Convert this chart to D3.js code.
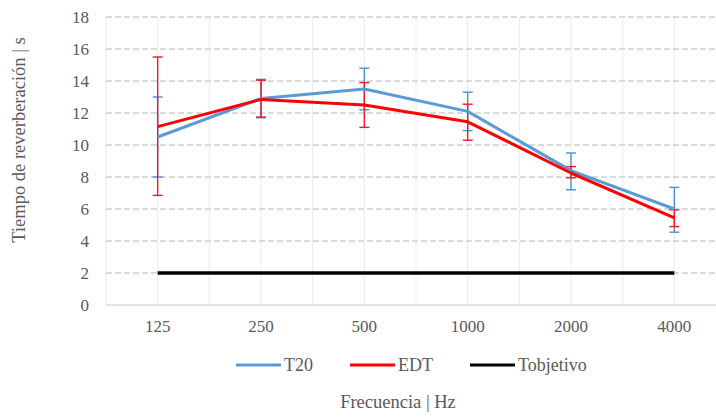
<!DOCTYPE html>
<html>
<head>
<meta charset="utf-8">
<script src="https://cdn.jsdelivr.net/npm/d3@7"></script>
<style>
  body { margin: 0; background: #fff; }
  text { font-family: "Liberation Serif", "DejaVu Serif", serif; fill: #595959; }
</style>
</head>
<body>
<div id="chart"></div>
<script>
// values
var frequencies = ["125", "250", "500", "1000", "2000", "4000"];
var t20 = [10.5, 12.9, 13.5, 12.1, 8.4, 6.0];
var t20Upper = [13.0, 14.1, 14.8, 13.3, 9.5, 7.35];
var t20Lower = [8.0, 11.7, 12.2, 10.9, 7.2, 4.55];
var edt = [11.15, 12.85, 12.5, 11.45, 8.25, 5.45];
var edtUpper = [15.5, 14.05, 13.9, 12.55, 8.65, 5.95];
var edtLower = [6.85, 11.75, 11.1, 10.3, 7.95, 4.9];
var target = [2, 2, 2, 2, 2, 2];
var yTicks = [0, 2, 4, 6, 8, 10, 12, 14, 16, 18];

var WIDTH = 716, HEIGHT = 417;
var plotLeft = 106, plotRight = 726, plotTop = 17, plotBottom = 305;

var svg = d3.select("#chart").append("svg")
    .attr("width", WIDTH)
    .attr("height", HEIGHT);

var x = d3.scaleBand().domain(frequencies).range([plotLeft, plotRight]);
var y = d3.scaleLinear().domain([0, 18]).range([plotBottom, plotTop]);
var cx = function (d) { return x(d) + x.bandwidth() / 2; };

// vertical gridlines, at band edges and centres
var vLines = [];
frequencies.forEach(function (f) { vLines.push(x(f)); vLines.push(cx(f)); });
svg.append("g").selectAll("line").data(vLines).enter().append("line")
    .attr("x1", function (d) { return d; }).attr("x2", function (d) { return d; })
    .attr("y1", plotTop).attr("y2", plotBottom)
    .attr("stroke", "#ebebeb").attr("stroke-width", 1);

// horizontal dashed gridlines
svg.append("g").selectAll("line").data(yTicks.filter(function (d) { return d > 0; })).enter().append("line")
    .attr("x1", plotLeft).attr("x2", WIDTH)
    .attr("y1", function (d) { return y(d); }).attr("y2", function (d) { return y(d); })
    .attr("stroke", "#d0d0d0").attr("stroke-width", 1.3)
    .attr("stroke-dasharray", "6,3");

// x axis line
svg.append("line")
    .attr("x1", plotLeft).attr("x2", WIDTH)
    .attr("y1", plotBottom).attr("y2", plotBottom)
    .attr("stroke", "#d9d9d9").attr("stroke-width", 1.3);

// y axis labels
var yAxis = d3.axisLeft(y).tickValues(yTicks).tickSize(0).tickPadding(0);
var gy = svg.append("g").attr("transform", "translate(" + (plotLeft - 17) + ",0)").call(yAxis);
gy.select(".domain").remove();
gy.selectAll("text").style("font-size", "17px").attr("fill", "#595959")
    .style("font-family", "'Liberation Serif', serif");

// x axis labels
var xAxis = d3.axisBottom(x).tickSize(0).tickPadding(0);
var gx = svg.append("g").attr("transform", "translate(0," + (plotBottom + 15) + ")").call(xAxis);
gx.select(".domain").remove();
gx.selectAll("text").style("font-size", "17px").attr("fill", "#595959")
    .style("font-family", "'Liberation Serif', serif");

// target line
var line = d3.line()
    .x(function (d, i) { return cx(frequencies[i]); })
    .y(function (d) { return y(d); });

svg.append("path").datum(target)
    .attr("d", line).attr("fill", "none")
    .attr("stroke", "#000").attr("stroke-width", 3.5);

var drawErrors = function (upper, lower, colour) {
    var g = svg.append("g").attr("stroke", colour).attr("stroke-width", 1.4);
    frequencies.forEach(function (f, i) {
        var px = cx(f);
        g.append("line").attr("x1", px).attr("x2", px)
            .attr("y1", y(upper[i])).attr("y2", y(lower[i]));
        g.append("line").attr("x1", px - 5).attr("x2", px + 5)
            .attr("y1", y(upper[i])).attr("y2", y(upper[i]));
        g.append("line").attr("x1", px - 5).attr("x2", px + 5)
            .attr("y1", y(lower[i])).attr("y2", y(lower[i]));
    });
};

drawErrors(t20Upper, t20Lower, "#4a8fd0");
drawErrors(edtUpper, edtLower, "#ee1c25");

svg.append("path").datum(t20)
    .attr("d", line).attr("fill", "none")
    .attr("stroke", "#5b9bd5").attr("stroke-width", 3)
    .attr("stroke-linejoin", "round");

svg.append("path").datum(edt)
    .attr("d", line).attr("fill", "none")
    .attr("stroke", "#ff0000").attr("stroke-width", 3)
    .attr("stroke-linejoin", "round");

// legend
var legend = [
    { name: "T20", colour: "#5b9bd5", x: 236 },
    { name: "EDT", colour: "#ff0000", x: 350 },
    { name: "Tobjetivo", colour: "#000000", x: 470 }
];
legend.forEach(function (l) {
    svg.append("line").attr("x1", l.x).attr("x2", l.x + 45)
        .attr("y1", 365).attr("y2", 365)
        .attr("stroke", l.colour).attr("stroke-width", 3);
    svg.append("text").attr("x", l.x + 48).attr("y", 371)
        .style("font-size", "18px").text(l.name);
});

// axis titles
svg.append("text")
    .attr("transform", "translate(25,140) rotate(-90)")
    .attr("text-anchor", "middle")
    .style("font-size", "18.5px")
    .text("Tiempo de reverberación  | s");

svg.append("text")
    .attr("x", 398).attr("y", 408)
    .attr("text-anchor", "middle")
    .style("font-size", "18.5px")
    .text("Frecuencia  | Hz");
</script>
</body>
</html>
